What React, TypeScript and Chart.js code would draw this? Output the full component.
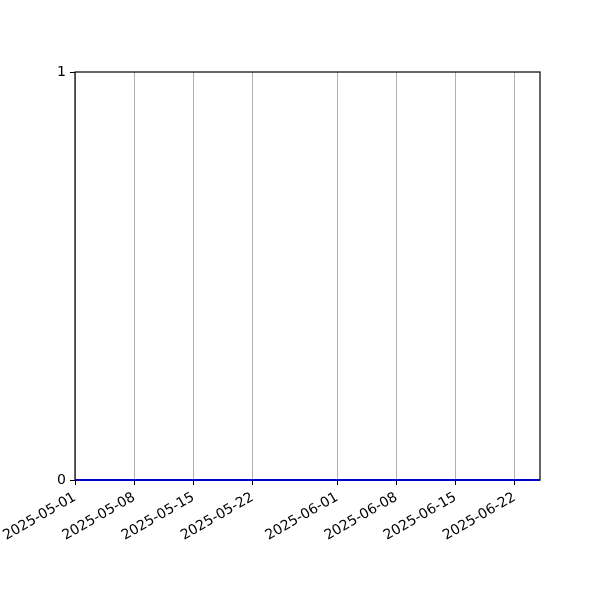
import { useEffect, useRef } from "react"
import { Chart, registerables } from "chart.js"

Chart.register(...registerables)

// days since 2025-05-01
const dayOffsets = Array.from({ length: 56 }, (_, i) => i)
const seriesValues = [
  0, 0, 0, 0, 0, 0, 0, 0, 0, 0, 0, 0, 0, 0, 0, 0, 0, 0, 0, 0, 0, 0, 0, 0, 0, 0, 0, 0,
  0, 0, 0, 0, 0, 0, 0, 0, 0, 0, 0, 0, 0, 0, 0, 0, 0, 0, 0, 0, 0, 0, 0, 0, 0, 0, 0, 0,
]
const xTickDays = [0, 7, 14, 21, 31, 38, 45, 52]
const xTickLabels = [
  "2025-05-01",
  "2025-05-08",
  "2025-05-15",
  "2025-05-22",
  "2025-06-01",
  "2025-06-08",
  "2025-06-15",
  "2025-06-22",
]
const yTicks = [0, 1]

// black spines, drawn under the line
const frame = {
  id: "frame",
  beforeDatasetsDraw(chart: Chart) {
    const { ctx, chartArea } = chart
    ctx.save()
    ctx.strokeStyle = "#000"
    ctx.lineWidth = 1.2
    ctx.strokeRect(chartArea.left, chartArea.top, chartArea.right - chartArea.left, chartArea.bottom - chartArea.top)
    ctx.restore()
  },
}

export default function App() {
  const canvasRef = useRef<HTMLCanvasElement>(null)

  useEffect(() => {
    document.body.style.margin = "0"
    if (!canvasRef.current) return
    const chart = new Chart(canvasRef.current, {
      type: "line",
      data: {
        datasets: [
          {
            data: dayOffsets.map((d, i) => ({ x: d, y: seriesValues[i] })),
            borderColor: "#0000c8",
            borderWidth: 2,
            pointRadius: 0,
            fill: false,
            clip: false,
          },
        ],
      },
      options: {
        responsive: false,
        animation: false,
        plugins: { legend: { display: false }, tooltip: { enabled: false } },
        layout: { padding: { top: 72, right: 60, left: 0, bottom: 0 } },
        scales: {
          x: {
            type: "linear",
            min: 0,
            max: 55,
            afterBuildTicks: (axis: any) => {
              axis.ticks = xTickDays.map((v) => ({ value: v }))
            },
            afterFit: (axis: any) => {
              axis.height = 120
            },
            ticks: {
              autoSkip: false,
              minRotation: 30,
              maxRotation: 30,
              padding: 4,
              color: "#000",
              font: { family: "DejaVu Sans", size: 14 },
              callback: (v: any) => xTickLabels[xTickDays.indexOf(Number(v))] ?? "",
            },
            grid: { color: "#b0b0b0", lineWidth: 1, tickColor: "#000", tickLength: 5 },
            border: { display: false },
          },
          y: {
            min: 0,
            max: 1,
            afterBuildTicks: (axis: any) => {
              axis.ticks = yTicks.map((v) => ({ value: v }))
            },
            afterFit: (axis: any) => {
              axis.width = 75
            },
            ticks: {
              padding: 4,
              color: "#000",
              font: { family: "DejaVu Sans", size: 14 },
            },
            grid: { drawOnChartArea: false, tickColor: "#000", tickLength: 5 },
            border: { display: false },
          },
        },
      },
      plugins: [frame],
    })
    return () => chart.destroy()
  }, [])

  return <canvas ref={canvasRef} width={600} height={600} />
}
